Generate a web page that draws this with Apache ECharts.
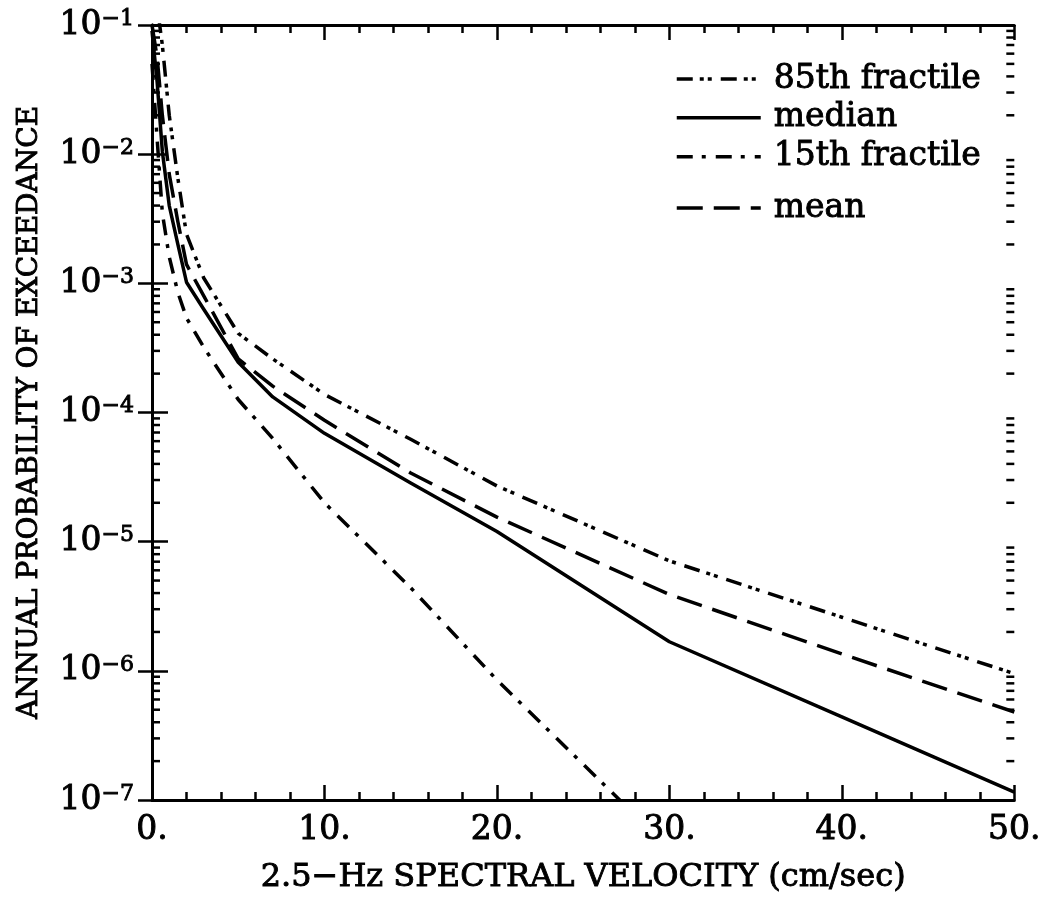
<!DOCTYPE html>
<html>
<head>
<meta charset="utf-8">
<title>Annual probability of exceedance</title>
<script src="https://cdn.jsdelivr.net/npm/echarts@6/dist/echarts.min.js"></script>
<style>
  html, body { margin: 0; padding: 0; background: #fff; }
  #chart { width: 1044px; height: 904px; }
</style>
</head>
<body>
<div id="chart"></div>
<script>
// Hazard curves: 2.5-Hz spectral velocity (cm/sec) vs annual probability of exceedance
const velocity = [0, 0.3, 0.6, 1, 1.5, 2, 3, 5, 7, 10, 15, 20, 30, 40, 50];
const fractile85 = [0.25, 0.14, 0.07, 0.02, 6.5e-3, 2.4e-3, 1.1e-3, 4.1e-4, 2.6e-4, 1.38e-4, 6.2e-5, 2.7e-5, 7.1e-6, 2.6e-6, 9.5e-7];
const median = [0.09, 3.6e-2, 1.05e-2, 4e-3, 2e-3, 1.02e-3, 6.3e-4, 2.45e-4, 1.32e-4, 6.9e-5, 2.85e-5, 1.2e-5, 1.68e-6, 4.4e-7, 1.15e-7];
const fractile15 = [0.05, 1.3e-2, 3.5e-3, 1.6e-3, 8.5e-4, 5.4e-4, 3.2e-4, 1.26e-4, 6.3e-5, 2e-5, 4.4e-6, 8.5e-7, 4.2e-8, null, null];
const mean = [0.1, 5.6e-2, 2e-2, 7e-3, 3e-3, 1.4e-3, 8e-4, 2.6e-4, 1.6e-4, 8.7e-5, 3.4e-5, 1.55e-5, 3.9e-6, 1.35e-6, 4.8e-7];

const xTickLabels = ['0.', '10.', '20.', '30.', '40.', '50.'];
const seriesNames = ['85th fractile', 'median', '15th fractile', 'mean'];

const FONT = 'DejaVu Serif';
const INK = '#000';
// slightly heavier glyphs: thin outline in the ink colour
const heavy = { textBorderColor: INK, textBorderWidth: 0.9 };

// log-decade minor ticks (2..9 per decade) for left and right frame edges
const minorTickValues = [];
for (let e = -7; e < -1; e++) {
  for (let m = 2; m <= 9; m++) minorTickValues.push(m * Math.pow(10, e));
}

function pairs(ys) {
  return velocity.map((v, i) => [v, ys[i]]);
}

const lineBase = { width: 3.5, color: INK, cap: 'butt', join: 'round' };

const legendText = Object.assign({ fontFamily: FONT, fontSize: 33, color: INK, padding: [0, 0, 0, 8] }, heavy);

const chart = echarts.init(document.getElementById('chart'), null, { renderer: 'canvas' });

chart.setOption({
  backgroundColor: '#fff',
  animation: false,
  color: [INK, INK, INK, INK],
  grid: { left: 152, top: 25, width: 864, height: 775, containLabel: false },
  legend: [
    {
      data: seriesNames.slice(0, 3),
      orient: 'vertical',
      left: 670,
      top: 57,
      itemWidth: 84,
      itemHeight: 14,
      itemGap: 5,
      itemStyle: { opacity: 0 },
      lineStyle: { width: 3.5, color: INK },
      textStyle: legendText,
      selectedMode: false
    },
    {
      data: [seriesNames[3]],
      orient: 'vertical',
      left: 670,
      top: 186,
      itemWidth: 84,
      itemHeight: 14,
      itemStyle: { opacity: 0 },
      lineStyle: { width: 3.5, color: INK },
      textStyle: legendText,
      selectedMode: false
    }
  ],
  xAxis: [
    {
      type: 'value', min: 0, max: 50, interval: 10, position: 'bottom',
      name: '2.5\u2212Hz SPECTRAL VELOCITY (cm/sec)',
      nameLocation: 'middle', nameGap: 62,
      nameTextStyle: Object.assign({ fontFamily: FONT, fontSize: 32, color: INK }, heavy),
      axisLine: { lineStyle: { color: INK, width: 3 } },
      axisTick: { inside: true, length: 15, lineStyle: { color: INK, width: 2.5 } },
      minorTick: { show: true, splitNumber: 5, length: 8, lineStyle: { color: INK, width: 2.5 } },
      splitLine: { show: false },
      axisLabel: Object.assign({
        margin: 14, fontFamily: FONT, fontSize: 33, color: INK,
        formatter: (v) => xTickLabels[Math.round(v / 10)]
      }, heavy)
    },
    {
      type: 'value', min: 0, max: 50, interval: 10, position: 'top',
      axisLine: { lineStyle: { color: INK, width: 3 } },
      axisTick: { inside: true, length: 15, lineStyle: { color: INK, width: 2.5 } },
      minorTick: { show: true, splitNumber: 5, length: 8, lineStyle: { color: INK, width: 2.5 } },
      splitLine: { show: false },
      axisLabel: { show: false }
    }
  ],
  yAxis: [
    {
      type: 'log', logBase: 10, min: 1e-7, max: 1e-1, splitNumber: 6, position: 'left',
      name: 'ANNUAL PROBABILITY OF EXCEEDANCE',
      nameLocation: 'middle', nameGap: 108, nameRotate: 90,
      nameTextStyle: Object.assign({ fontFamily: FONT, fontSize: 28, color: INK }, heavy),
      axisLine: { lineStyle: { color: INK, width: 3 } },
      axisTick: { inside: true, length: 16, lineStyle: { color: INK, width: 2.5 } },
      splitLine: { show: false },
      axisLabel: {
        margin: 18, color: INK,
        formatter: (v) => '{b|10}{s|\u2212' + Math.abs(Math.round(Math.log10(v))) + '}',
        rich: {
          b: Object.assign({ fontFamily: FONT, fontSize: 33, lineHeight: 34, color: INK }, heavy),
          s: Object.assign({ fontFamily: FONT, fontSize: 22, lineHeight: 34, verticalAlign: 'top', color: INK }, heavy)
        }
      }
    },
    {
      type: 'log', logBase: 10, min: 1e-7, max: 1e-1, splitNumber: 6, position: 'right',
      axisLine: { lineStyle: { color: INK, width: 3 } },
      axisTick: { inside: true, length: 14, lineStyle: { color: INK, width: 2.5 } },
      splitLine: { show: false },
      axisLabel: { show: false }
    }
  ],
  series: [
    {
      name: seriesNames[0], type: 'line', data: pairs(fractile85), symbol: 'none', clip: true,
      lineStyle: Object.assign({}, lineBase, { type: [16, 7, 4, 4, 4, 9] })
    },
    {
      name: seriesNames[1], type: 'line', data: pairs(median), symbol: 'none', clip: true,
      lineStyle: Object.assign({}, lineBase, { type: 'solid' })
    },
    {
      name: seriesNames[2], type: 'line', data: pairs(fractile15), symbol: 'none', clip: true,
      lineStyle: Object.assign({}, lineBase, { type: [16, 9, 4, 10] })
    },
    {
      name: seriesNames[3], type: 'line', data: pairs(mean), symbol: 'none', clip: true,
      lineStyle: Object.assign({}, lineBase, { type: [26, 11] })
    },
    {
      name: 'minor ticks', type: 'custom', silent: true, clip: false,
      data: minorTickValues.map((v) => [0, v]),
      renderItem: function (params, api) {
        const v = api.value(1);
        const l = api.coord([0, v]);
        const r = api.coord([50, v]);
        const st = { stroke: INK, lineWidth: 2.5 };
        return {
          type: 'group',
          children: [
            { type: 'line', shape: { x1: l[0], y1: l[1], x2: l[0] + 8, y2: l[1] }, style: st },
            { type: 'line', shape: { x1: r[0] - 8, y1: r[1], x2: r[0], y2: r[1] }, style: st }
          ]
        };
      }
    }
  ]
});
</script>
</body>
</html>
